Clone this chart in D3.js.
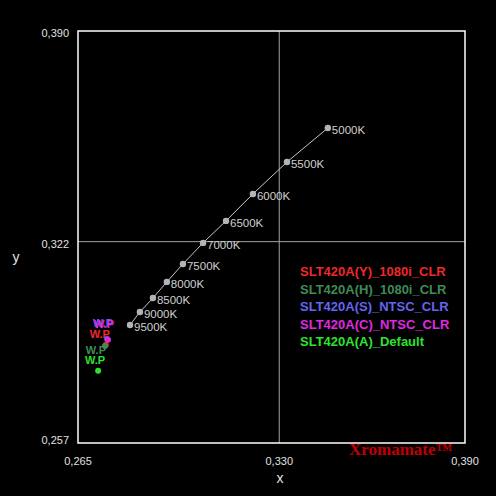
<!DOCTYPE html>
<html>
<head>
<style>
  body { margin: 0; background: #000; }
  text { font-family: "Liberation Sans", Arial, sans-serif; }
</style>
</head>
<body>
<script src="https://d3js.org/d3.v7.min.js"></script>
<script>
// color temperature track
var cctLabels = ["5000K", "5500K", "6000K", "6500K", "7000K", "7500K", "8000K", "8500K", "9000K", "9500K"];
var cctX = [0.3457, 0.3325, 0.3215, 0.3128, 0.3054, 0.2989, 0.2937, 0.2892, 0.2850, 0.2818];
var cctY = [0.3587, 0.3477, 0.3374, 0.3287, 0.3216, 0.3148, 0.3090, 0.3038, 0.2993, 0.2951];

// white points per setting
var wpNames = ["SLT420A(Y)_1080i_CLR", "SLT420A(H)_1080i_CLR", "SLT420A(S)_NTSC_CLR", "SLT420A(C)_NTSC_CLR", "SLT420A(A)_Default"];
var wpX = [0.2740, 0.2737, 0.2744, 0.2747, 0.2715];
var wpY = [0.2887, 0.2883, 0.2906, 0.2903, 0.2803];
var wpColors = ["#f02828", "#3e8a58", "#6464f0", "#e028e0", "#30e030"];

var xTicks = [0.265, 0.330, 0.390];
var yTicks = [0.257, 0.322, 0.390];

var W = 496, H = 496;
var margin = {top: 31, right: 31, bottom: 53, left: 78};
var width = W - margin.left - margin.right,
    height = H - margin.top - margin.bottom;

var x = d3.scaleLinear().domain([0.265, 0.390]).range([0, width]);
var y = d3.scaleLinear().domain([0.257, 0.390]).range([height, 0]);

var svg = d3.select("body").append("svg")
    .attr("width", W).attr("height", H)
    .style("background", "#000");
var g = svg.append("g").attr("transform", "translate(" + margin.left + "," + margin.top + ")");

// grid lines at middle ticks
g.append("line").attr("x1", x(0.330)).attr("x2", x(0.330)).attr("y1", 0).attr("y2", height)
    .attr("stroke", "#a0a0a0").attr("stroke-width", 1);
g.append("line").attr("x1", 0).attr("x2", width).attr("y1", y(0.322)).attr("y2", y(0.322))
    .attr("stroke", "#a0a0a0").attr("stroke-width", 1);

// frame
g.append("rect").attr("width", width).attr("height", height)
    .attr("fill", "none").attr("stroke", "#fff").attr("stroke-width", 1.5);

var fmt = function(v) { return d3.format(".3f")(v).replace(".", ","); };

// tick labels
g.selectAll(".xt").data(xTicks).enter().append("text")
    .attr("x", function(d) { return x(d); }).attr("y", height + 22)
    .attr("text-anchor", "middle").attr("fill", "#e0e0e0").style("font-size", "11px")
    .text(fmt);
g.selectAll(".yt").data(yTicks).enter().append("text")
    .attr("x", -9).attr("y", function(d, i) { return y(d) + (i === 0 ? 1 : 6); })
    .attr("text-anchor", "end").attr("fill", "#e0e0e0").style("font-size", "11px")
    .text(fmt);

svg.append("text").attr("x", 280).attr("y", 483).attr("text-anchor", "middle")
    .attr("fill", "#e0e0e0").style("font-size", "14px").text("x");
svg.append("text").attr("x", 16).attr("y", 262).attr("text-anchor", "middle")
    .attr("fill", "#e0e0e0").style("font-size", "14px").text("y");

// cct track
var cct = cctLabels.map(function(l, i) { return {label: l, x: cctX[i], y: cctY[i]}; });
g.append("path").datum(cct)
    .attr("d", d3.line().x(function(d) { return x(d.x); }).y(function(d) { return y(d.y); }))
    .attr("fill", "none").attr("stroke", "#c8c8c8").attr("stroke-width", 1);
g.selectAll(".cp").data(cct).enter().append("circle")
    .attr("cx", function(d) { return x(d.x); }).attr("cy", function(d) { return y(d.y); })
    .attr("r", 3.2).attr("fill", "#b4b4b4");
g.selectAll(".cl").data(cct).enter().append("text")
    .attr("x", function(d) { return x(d.x) + 4; }).attr("y", function(d) { return y(d.y) + 6; })
    .attr("fill", "#d0d0d0").style("font-size", "11.5px")
    .text(function(d) { return d.label; });

// white points
var wp = wpNames.map(function(n, i) { return {name: n, x: wpX[i], y: wpY[i], c: wpColors[i]}; });
var wpLabelOff = [[-6, -7], [-9, 8], [-4, -12], [-4, -12], [-3, -7]];
g.selectAll(".wl").data(wp).enter().append("text")
    .attr("x", function(d, i) { return x(d.x) + wpLabelOff[i][0]; })
    .attr("y", function(d, i) { return y(d.y) + wpLabelOff[i][1]; })
    .attr("text-anchor", "middle").attr("fill", function(d) { return d.c; })
    .style("font-size", "11px").style("font-weight", "bold")
    .text("W.P");
g.selectAll(".wp").data(wp).enter().append("circle")
    .attr("cx", function(d) { return x(d.x); }).attr("cy", function(d) { return y(d.y); })
    .attr("r", 3).attr("fill", function(d) { return d.c; });

// legend
g.selectAll(".lg").data(wp).enter().append("text")
    .attr("x", 222).attr("y", function(d, i) { return 245 + i * 17.5; })
    .attr("fill", function(d) { return d.c; })
    .style("font-size", "13px").style("font-weight", "bold")
    .text(function(d) { return d.name; });

svg.append("text").attr("x", 349).attr("y", 455)
    .attr("fill", "#c00000").style("font-family", "'Liberation Serif', 'Times New Roman', serif")
    .style("font-size", "17px").style("font-weight", "bold")
    .text("Xromamate™");
</script>
</body>
</html>
